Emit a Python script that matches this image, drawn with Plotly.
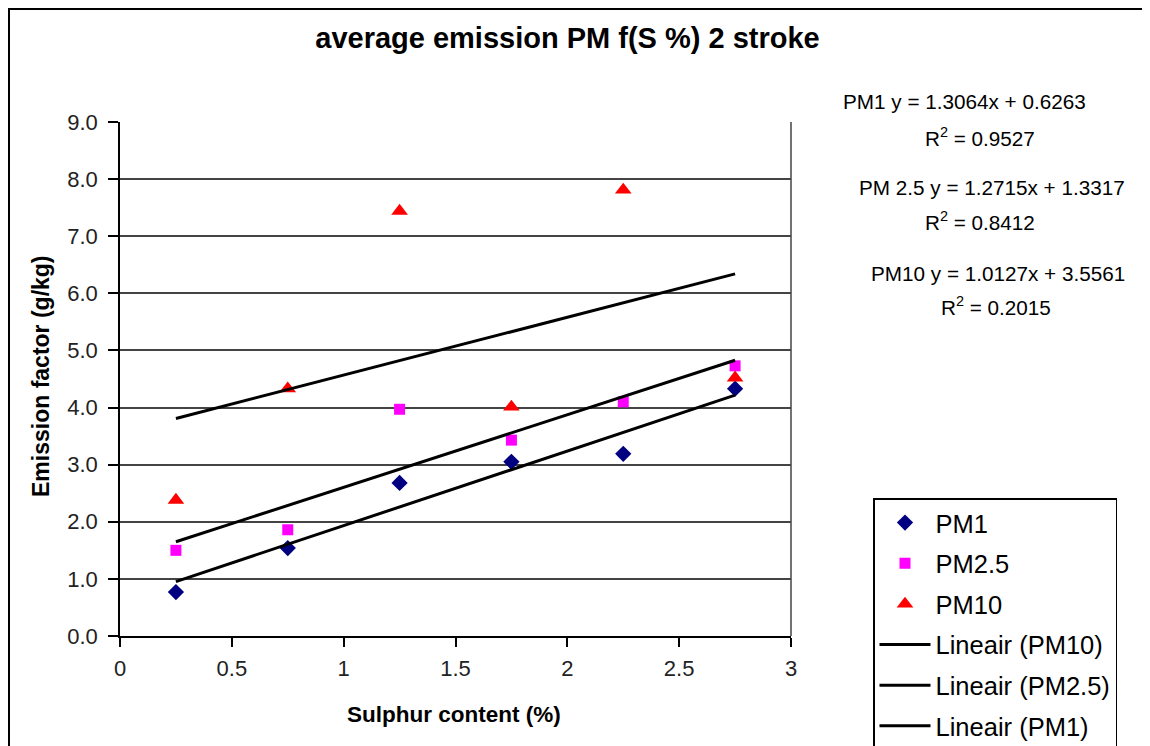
import plotly.graph_objects as go

# ---------------- data ----------------
sulphur = [0.25, 0.75, 1.25, 1.75, 2.25, 2.75]
pm1 = [0.77, 1.54, 2.68, 3.05, 3.19, 4.33]
pm25 = [1.50, 1.86, 3.97, 3.43, 4.10, 4.73]
pm10 = [2.38, 4.33, 7.44, 4.01, 7.81, 4.52]

series_names = ["PM1", "PM2.5", "PM10"]
trend_slopes = {"PM1": 1.3064, "PM2.5": 1.2715, "PM10": 1.0127}
trend_intercepts = {"PM1": 0.6263, "PM2.5": 1.3317, "PM10": 3.5561}
trend_r2 = {"PM1": 0.9527, "PM2.5": 0.8412, "PM10": 0.2015}
eq_labels = {"PM1": "PM1", "PM2.5": "PM 2.5", "PM10": "PM10"}

x_ticks = [0, 0.5, 1, 1.5, 2, 2.5, 3]
x_tick_text = ["0", "0.5", "1", "1.5", "2", "2.5", "3"]
y_ticks = [0, 1, 2, 3, 4, 5, 6, 7, 8, 9]
y_tick_text = ["0.0", "1.0", "2.0", "3.0", "4.0", "5.0", "6.0", "7.0", "8.0", "9.0"]

# ---------------- layout geometry ----------------
# the page body adds an 8px offset, so figure pixels = screen pixels - OFF
OFF = 8
W, H = 1150, 746
L, R, T, B = 120 - OFF, 791 - OFF, 122 - OFF, 636 - OFF
FONT = "Liberation Sans, Arial, sans-serif"


def px(xs):
    """screen x -> paper x"""
    return (xs - OFF - L) / (R - L)


def py(ys):
    """screen y -> paper y"""
    return (B - (ys - OFF)) / (B - T)


fig = go.Figure()

values = {"PM1": pm1, "PM2.5": pm25, "PM10": pm10}
markers = {
    "PM1": dict(symbol="diamond", color="#000080", size=12.5),
    "PM2.5": dict(symbol="square", color="#ff00ff", size=11),
    "PM10": dict(symbol="triangle-up", color="#ff0000", size=14.5),
}

for i, name in enumerate(series_names):
    fig.add_trace(go.Scatter(
        x=sulphur, y=values[name], mode="markers", name=name,
        marker=dict(line=dict(width=0), **markers[name]),
        legendgroup="g%d" % i,
    ))

xmin, xmax = min(sulphur), max(sulphur)
for j, name in enumerate(["PM10", "PM2.5", "PM1"]):
    a, b = trend_slopes[name], trend_intercepts[name]
    fig.add_trace(go.Scatter(
        x=[xmin, xmax], y=[a * xmin + b, a * xmax + b], mode="lines",
        name="Lineair (%s)" % name, line=dict(color="black", width=3),
        legendgroup="t%d" % j,
    ))

eq_pos = {
    "PM1": ((965, 102), (980, 137)),
    "PM2.5": ((992, 187), (980, 221)),
    "PM10": ((998, 273), (996, 306)),
}
annotations = []
for name in series_names:
    (ex, ey), (rx, ry) = eq_pos[name]
    a, b = trend_slopes[name], trend_intercepts[name]
    annotations.append(dict(
        x=px(ex), y=py(ey), xref="paper", yref="paper", showarrow=False,
        text="%s y = %.4fx + %.4f" % (eq_labels[name], a, b),
        font=dict(family=FONT, size=20.7, color="black"), xanchor="center", yanchor="middle"))
    annotations.append(dict(
        x=px(rx), y=py(ry), xref="paper", yref="paper", showarrow=False,
        text="R<sup>2</sup> = %.4f" % trend_r2[name],
        font=dict(family=FONT, size=20.7, color="black"), xanchor="center", yanchor="middle"))

annotations.append(dict(
    x=px(454), y=py(714), xref="paper", yref="paper", showarrow=False,
    text="<b>Sulphur content (%)</b>", font=dict(family=FONT, size=22.5, color="black"),
    xanchor="center", yanchor="middle"))
annotations.append(dict(
    x=px(41), y=py(376), xref="paper", yref="paper", showarrow=False, textangle=-90,
    text="<b>Emission factor (g/kg)</b>", font=dict(family=FONT, size=23, color="black"),
    xanchor="center", yanchor="middle"))

shapes = [
    dict(type="rect", xref="paper", yref="paper", x0=px(9), x1=px(1200), y0=py(9), y1=py(800),
         fillcolor="white", line=dict(color="black", width=2), layer="below"),
    dict(type="line", xref="paper", yref="paper", x0=1, x1=1, y0=0, y1=1,
         line=dict(color="#444", width=1.5)),
]

fig.update_layout(
    width=W, height=H,
    margin=dict(l=L, r=W - R, t=T, b=H - B, autoexpand=False),
    paper_bgcolor="#ececec", plot_bgcolor="white",
    font=dict(family=FONT, color="black"),
    title=dict(text="<b>average emission PM f(S %) 2 stroke</b>", x=(567.5 - OFF) / W,
               xref="container", y=1 - (38 - OFF) / H, yref="container",
               xanchor="center", yanchor="middle",
               font=dict(family=FONT, size=29, color="black")),
    xaxis=dict(range=[0, 3], tickvals=x_ticks, ticktext=x_tick_text, showgrid=False,
               zeroline=False, showline=True, linecolor="black", linewidth=1.5,
               ticks="outside", ticklen=9, tickcolor="black", tickwidth=1.5,
               ticklabelstandoff=3,
               tickfont=dict(family=FONT, size=22, color="#222")),
    yaxis=dict(range=[0, 9], tickvals=y_ticks, ticktext=y_tick_text, showgrid=True,
               gridcolor="#444", gridwidth=1.5, zeroline=False, showline=True,
               linecolor="black", linewidth=1.5, ticks="outside", ticklen=10,
               tickcolor="black", tickwidth=1.5, ticklabelstandoff=6,
               tickfont=dict(family=FONT, size=22, color="#222")),
    legend=dict(x=px(873), y=py(498), xanchor="left", yanchor="top",
                bordercolor="black", borderwidth=1.5, bgcolor="white",
                font=dict(family=FONT, size=25.5, color="black"),
                traceorder="grouped", tracegroupgap=4.5, itemwidth=51),
    annotations=annotations,
    shapes=shapes,
    showlegend=True,
)

fig.write_html("out.html")
